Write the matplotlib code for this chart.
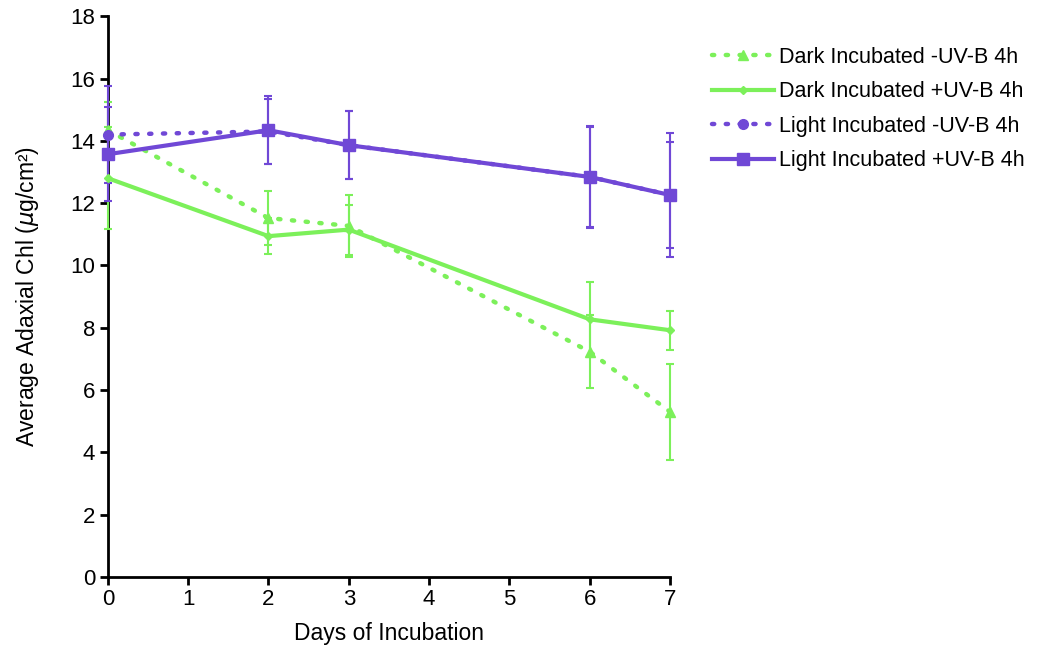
import matplotlib
matplotlib.use("Agg")
import matplotlib.pyplot as plt
from matplotlib.lines import Line2D

plt.rcParams['font.family'] = ['Liberation Sans', 'DejaVu Sans']

days = [0, 2, 3, 6, 7]

dark_minus = [14.34, 11.52, 11.27, 7.23, 5.30]
dark_minus_err = [0.90, 0.87, 1.00, 1.17, 1.55]
dark_plus = [12.80, 10.94, 11.15, 8.27, 7.92]
dark_plus_err = [1.64, 0.58, 0.80, 1.20, 0.63]
light_minus = [14.20, 14.30, 13.86, 12.84, 12.26]
light_minus_err = [1.55, 1.05, 1.10, 1.60, 1.70]
light_plus = [13.57, 14.34, 13.86, 12.84, 12.26]
light_plus_err = [1.50, 1.10, 1.10, 1.65, 2.00]

labels = ["Dark Incubated -UV-B 4h", "Dark Incubated +UV-B 4h",
          "Light Incubated -UV-B 4h", "Light Incubated +UV-B 4h"]

green = "#7CF05A"
purple = "#7048D6"

fig = plt.figure(figsize=(10.47, 6.48), dpi=100)
ax = fig.add_axes([0.103, 0.1096, 0.537, 0.8654])

dotted = (0, (0.5, 2.6))
series = [
    (dark_minus, dark_minus_err, green, dotted, "^", 7),
    (dark_plus, dark_plus_err, green, "-", "D", 4),
    (light_minus, light_minus_err, purple, dotted, "o", 7),
    (light_plus, light_plus_err, purple, "-", "s", 8),
]
handles = []
for (y, e, c, ls, m, ms), lab in zip(series, labels):
    lw = 3 if ls == "-" else 3.2
    ax.errorbar(days, y, yerr=e, color=c, linestyle=ls, linewidth=lw,
                marker=m, markersize=ms, elinewidth=1.5, capsize=3, capthick=1.5,
                dash_capstyle="round", clip_on=False, zorder=3)
    handles.append(Line2D([], [], color=c, linestyle=ls, linewidth=lw, marker=m,
                          markersize=ms, dash_capstyle="round", label=lab))

ax.set_xlim(0, 7)
ax.set_ylim(0, 18)
ax.set_xticks(range(0, 8))
ax.set_yticks(range(0, 19, 2))
for s in ["top", "right"]:
    ax.spines[s].set_visible(False)
for s in ["left", "bottom"]:
    ax.spines[s].set_linewidth(2)
ax.tick_params(axis="both", width=2, length=6, labelsize=16, pad=3)
ax.set_xlabel("Days of Incubation", fontsize=16.5, labelpad=8)
ax.set_ylabel("Average Adaxial Chl ($\\mu$g/cm²)", fontsize=16.5, labelpad=21)

fig.legend(handles=handles, loc="upper left", bbox_to_anchor=(712 / 1047, 1 - 47 / 648),
           frameon=False, borderpad=0, borderaxespad=0, fontsize=15.5,
           handlelength=2.9, labelspacing=0.62, handletextpad=0.2)

fig.savefig("out.png", dpi=100)
